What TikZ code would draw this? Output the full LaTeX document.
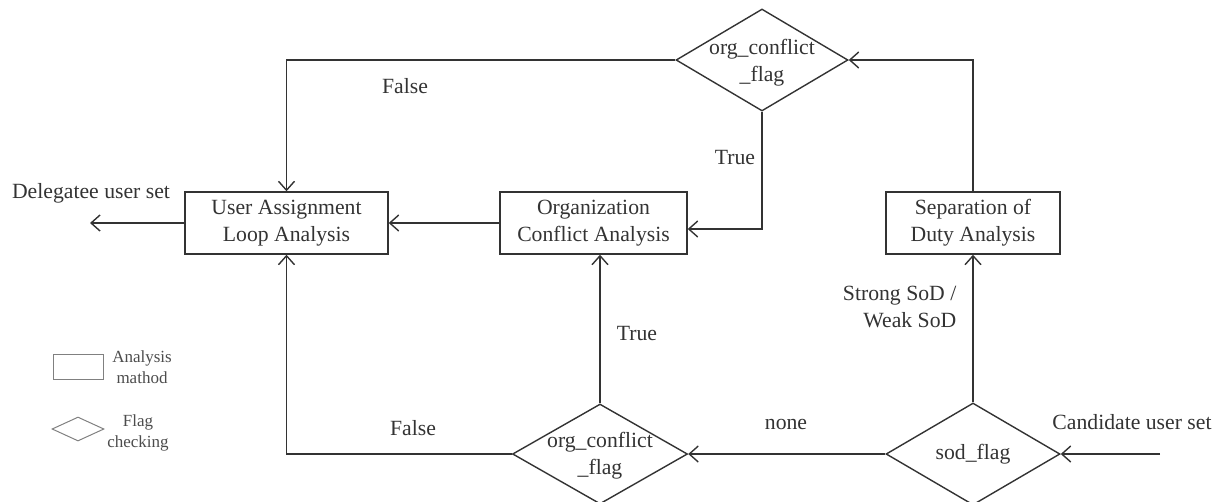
\documentclass[tikz,border=0pt]{standalone}
\usepackage{fontspec}
\setmainfont{Liberation Serif}
\usetikzlibrary{shapes.geometric,arrows.meta,calc}
\begin{document}
\begin{tikzpicture}[x=1pt,y=-1pt,
  font=\fontsize{21.7}{27}\selectfont,
  line width=1.4pt, color=black!80,
  method/.style={draw, rectangle, minimum height=62pt, inner sep=0pt, align=center},
  flag/.style={draw, diamond, minimum width=174pt, minimum height=102pt, inner sep=0pt},
  lbl/.style={inner sep=0pt, align=center},
  small/.style={inner sep=0pt, align=center, font=\fontsize{17}{21}\selectfont, text=black!70},
  legendbox/.style={draw=black!50, line width=1pt, inner sep=0pt},
  flow/.style={-{Straight Barb[length=9pt,width=16pt]}}]
\useasboundingbox (0,0) rectangle (1225,501);

% analysis steps
\node[method, minimum width=203pt] (ual) at (286.5,223) {User Assignment\\Loop Analysis};
\node[method, minimum width=187pt] (oca) at (593.5,223) {Organization\\Conflict Analysis};
\node[method, minimum width=174pt] (sod) at (973,223) {Separation of\\Duty Analysis};

% flag checks
\node[flag, minimum width=172pt] (ocf1) at (762,60) {};
\node[lbl] (ocf1t) at (762,63) {org\_conflict\\\_flag};
\node[flag, minimum width=175pt, minimum height=100pt] (ocf2) at (600,454) {};
\node[lbl] (ocf2t) at (600,456) {org\_conflict\\\_flag};
\node[flag] (sf) at (973,454) {};
\node[lbl] (sft) at (973,454) {sod\_flag};

% free ends
\coordinate (cand) at (1160,454);
\coordinate (deleg) at (90,223);
\coordinate (ocain) at ($(oca.east)+(0,6)$);

% connectors
\draw[flow] (cand) -- (sf.east);
\draw[flow] (sf.north) -- (sod.south);
\draw[flow] (sod.north) |- (ocf1.east);
\draw[flow] (ocf1.west) -| (ual.north);
\draw[flow] (ocf1.south) |- (ocain);
\draw[flow] (sf.west) -- (ocf2.east);
\draw[flow] (ocf2.north) -- (ocf2.north |- oca.south);
\draw[flow] (ocf2.west) -| (ual.south);
\draw[flow] (oca.west) -- (ual.east);
\draw[flow] (ual.west) -- (deleg);

% connector labels
\node[lbl] (ldeleg) at (91,193) {Delegatee user set};
\node[lbl] (lcand) at (1132,422) {Candidate user set};
\node[lbl] (lfalse1) at (405,86) {False};
\node[lbl] (ltrue1) at (735,157) {True};
\node[lbl] (ltrue2) at (637,333) {True};
\node[lbl] (lfalse2) at (413,428) {False};
\node[lbl] (lnone) at (786,424) {none};
\node[lbl, align=right, anchor=east] (lsod) at (957,307) {Strong SoD /\\Weak SoD};

% legend
\node[legendbox, minimum width=50pt, minimum height=25pt] (lgm) at (78,366.5) {};
\node[small] (lgmt) at (142,367) {Analysis\\mathod};
\node[legendbox, diamond, minimum width=52pt, minimum height=24pt] (lgf) at (78,429) {};
\node[small] (lgft) at (138,433) {Flag\\checking};
\end{tikzpicture}
\end{document}
